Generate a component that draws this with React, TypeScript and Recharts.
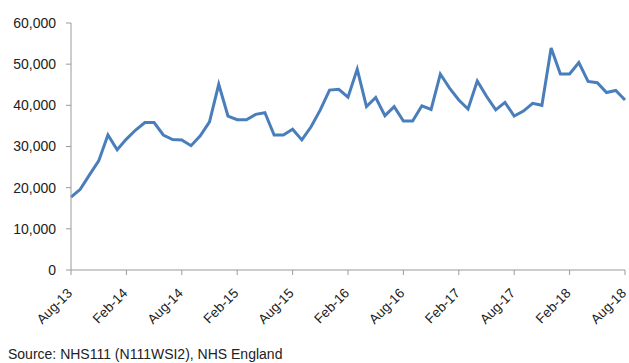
import React from 'react';
import { LineChart, Line, XAxis, YAxis } from 'recharts';

const months = [
  'Aug-13', 'Sep-13', 'Oct-13', 'Nov-13', 'Dec-13', 'Jan-14', 'Feb-14', 'Mar-14', 'Apr-14', 'May-14', 'Jun-14', 'Jul-14',
  'Aug-14', 'Sep-14', 'Oct-14', 'Nov-14', 'Dec-14', 'Jan-15', 'Feb-15', 'Mar-15', 'Apr-15', 'May-15', 'Jun-15', 'Jul-15',
  'Aug-15', 'Sep-15', 'Oct-15', 'Nov-15', 'Dec-15', 'Jan-16', 'Feb-16', 'Mar-16', 'Apr-16', 'May-16', 'Jun-16', 'Jul-16',
  'Aug-16', 'Sep-16', 'Oct-16', 'Nov-16', 'Dec-16', 'Jan-17', 'Feb-17', 'Mar-17', 'Apr-17', 'May-17', 'Jun-17', 'Jul-17',
  'Aug-17', 'Sep-17', 'Oct-17', 'Nov-17', 'Dec-17', 'Jan-18', 'Feb-18', 'Mar-18', 'Apr-18', 'May-18', 'Jun-18', 'Jul-18',
  'Aug-18',
];

const calls = [
  17700, 19600, 23100, 26500, 32800, 29200, 31800, 34000, 35800, 35800, 32800, 31700,
  31600, 30200, 32600, 36000, 45100, 37400, 36500, 36500, 37800, 38200, 32800, 32800,
  34200, 31600, 34800, 38900, 43700, 43900, 42000, 48800, 39700, 41900, 37500, 39700,
  36200, 36200, 39900, 39000, 47600, 44200, 41300, 39100, 45900, 42200, 38900, 40700,
  37400, 38600, 40500, 40000, 53900, 47600, 47600, 50400, 45800, 45500, 43100, 43600,
  41300,
];

const yTicks = [0, 10000, 20000, 30000, 40000, 50000, 60000];

const data = months.map((m, i) => ({ month: m, calls: calls[i] }));

const FONT = '"Liberation Sans", Arial, sans-serif';

const MonthTick = (props: any) => {
  const { x, y, payload } = props;
  const px = x + 2;
  const py = y + 17;
  return (
    <text
      x={px}
      y={py}
      transform={`rotate(-45, ${px}, ${py})`}
      textAnchor="end"
      fontSize={13.5}
      fontFamily={FONT}
      fill="#222"
    >
      {payload.value}
    </text>
  );
};

const App: React.FC = () => {
  return (
    <div style={{ position: 'absolute', left: 0, top: 0, width: 629, height: 363, background: '#fff' }}>
      <LineChart width={629} height={363} data={data} margin={{ top: 23, right: 4, left: 0, bottom: 63 }}>
        <XAxis
          dataKey="month"
          interval={5}
          tick={<MonthTick />}
          tickSize={5}
          stroke="#9a9a9a"
          height={30}
        />
        <YAxis
          domain={[0, 60000]}
          ticks={yTicks}
          width={71}
          tickSize={5}
          tickMargin={10}
          stroke="#9a9a9a"
          tick={{ fill: '#222', fontSize: 14, fontFamily: FONT }}
          tickFormatter={(v: number) => v.toLocaleString('en-GB')}
        />
        <Line
          type="linear"
          dataKey="calls"
          stroke="#4a7ebb"
          strokeWidth={3}
          dot={false}
          isAnimationActive={false}
        />
      </LineChart>
      <div
        style={{
          position: 'absolute',
          left: 8,
          top: 346,
          fontFamily: FONT,
          fontSize: 14,
          color: '#222',
          whiteSpace: 'nowrap',
        }}
      >
        Source: NHS111 (N111WSI2), NHS England
      </div>
    </div>
  );
};

export default App;
